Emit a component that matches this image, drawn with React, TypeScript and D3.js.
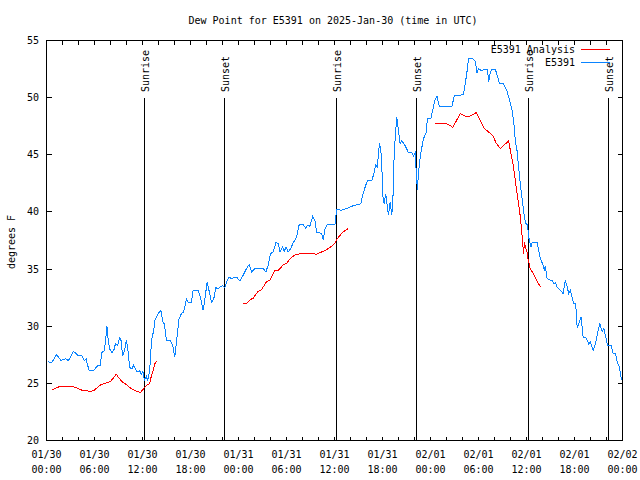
import React from 'react';
import * as d3 from 'd3';

// Hours since 2025-01-30 00:00 UTC, dew point (°F)
const stationSeries: [number, number][] = [
  [0.13, 26.9], [0.66, 26.8], [1.21, 27.5], [1.5, 27.3], [1.79, 27.0], [2.34, 27.15], [2.75, 27.0],
  [3.38, 27.8], [3.72, 27.6], [4.01, 27.4], [4.42, 27.4], [4.72, 27.0], [4.97, 27.15], [5.05, 26.8],
  [5.35, 26.1], [5.89, 26.1], [6.3, 26.5], [6.72, 26.6], [6.92, 27.7], [7.23, 27.85], [7.39, 28.75],
  [7.55, 30.05], [7.68, 29.0], [7.89, 28.0], [8.18, 27.7], [8.48, 28.0], [8.6, 28.45], [8.89, 28.3],
  [9.14, 29.0], [9.3, 28.85], [9.52, 27.4], [9.73, 27.8], [9.98, 28.75], [10.14, 28.15], [10.39, 26.4],
  [10.68, 26.25], [10.89, 26.6], [11.11, 26.25], [11.31, 26.0], [11.65, 26.1], [11.86, 25.8],
  [12.06, 26.05], [12.23, 25.25], [12.48, 25.6], [12.65, 25.25], [12.9, 26.1], [13.06, 28.0],
  [13.24, 29.3], [13.4, 29.45], [13.52, 30.5], [13.81, 30.9], [14.15, 31.3], [14.31, 31.35],
  [14.56, 30.35], [14.74, 30.2], [14.99, 28.75], [15.49, 28.75], [15.82, 28.2], [16.03, 27.3],
  [16.57, 30.65], [16.87, 31.1], [17.15, 31.25], [17.49, 32.4], [17.69, 32.1], [18.12, 32.1],
  [18.32, 33.1], [18.95, 33.1], [19.25, 32.5], [19.57, 31.4], [19.78, 32.25], [20.07, 33.85],
  [20.32, 33.1], [20.62, 32.1], [20.91, 32.4], [21.16, 33.4], [21.45, 33.25], [21.66, 33.4],
  [22.0, 33.55], [22.29, 33.4], [22.58, 34.0], [22.83, 34.3], [23.13, 34.15], [23.54, 34.3],
  [23.75, 34.3], [24.17, 33.95], [24.58, 34.45], [25.01, 35.05], [25.33, 35.4], [25.63, 34.75],
  [26.05, 35.05], [27.09, 35.05], [27.42, 34.75], [27.71, 35.35], [28.01, 36.35], [28.34, 36.5],
  [28.68, 37.3], [28.96, 37.25], [29.18, 36.5], [29.51, 36.95], [29.71, 36.5], [29.93, 36.95],
  [30.22, 36.5], [30.52, 36.8], [30.84, 37.3], [31.27, 37.8], [31.59, 38.9], [32.09, 38.9],
  [32.43, 38.55], [32.59, 38.85], [32.93, 38.75], [33.27, 39.6], [33.56, 39.25], [33.77, 38.2],
  [34.1, 38.2], [34.4, 38.05], [34.6, 37.55], [34.81, 38.5], [35.1, 38.9], [36.06, 38.9],
  [36.27, 40.2], [36.9, 40.15], [37.53, 40.3], [38.35, 40.55], [39.28, 40.7], [39.53, 41.5],
  [39.82, 42.15], [40.11, 42.75], [40.66, 42.75], [40.86, 43.2], [41.16, 44.1], [41.36, 43.95],
  [41.61, 46.0], [41.79, 45.4], [41.91, 44.1], [42.04, 41.45], [42.2, 40.7], [42.41, 41.6],
  [42.54, 40.85], [42.74, 39.7], [42.95, 40.85], [43.16, 39.7], [43.29, 40.85], [43.45, 44.8],
  [43.61, 46.8], [43.79, 48.3], [43.99, 47.1], [44.2, 46.0], [44.41, 46.25], [44.83, 45.8],
  [45.24, 45.2], [45.67, 45.2], [45.87, 44.9], [46.08, 45.2], [46.21, 43.6], [46.37, 41.9],
  [46.49, 43.35], [46.71, 44.8], [46.92, 45.65], [47.12, 46.4], [47.46, 46.95], [47.62, 48.2],
  [48.05, 48.2], [48.3, 49.0], [48.59, 49.85], [48.8, 50.15], [49.12, 49.2], [50.68, 49.2],
  [50.96, 50.15], [51.5, 50.15], [52.13, 50.3], [52.34, 51.2], [52.55, 52.2], [52.75, 53.45],
  [53.18, 53.45], [53.59, 53.2], [53.81, 52.2], [54.01, 52.5], [54.43, 52.35], [54.72, 52.5],
  [55.13, 52.5], [55.26, 51.35], [55.47, 52.2], [55.69, 52.5], [56.1, 52.5], [56.64, 51.2],
  [57.14, 51.2], [57.56, 50.6], [57.89, 49.75], [58.19, 48.9], [58.39, 48.0], [58.6, 46.25],
  [58.81, 45.4], [59.02, 43.9], [59.14, 43.05], [59.32, 41.9], [59.57, 40.45], [59.73, 39.55],
  [59.89, 39.0], [60.14, 38.85], [60.27, 37.8], [60.57, 36.95], [60.69, 37.3], [61.11, 37.3],
  [61.32, 37.3], [61.52, 36.65], [61.73, 35.95], [62.07, 35.35], [62.23, 34.95], [62.36, 35.25],
  [62.57, 34.2], [62.9, 34.05], [63.2, 34.0], [63.4, 33.75], [63.65, 33.8], [63.82, 33.45],
  [64.24, 33.15], [64.57, 32.85], [64.86, 34.0], [65.08, 33.45], [65.28, 32.85], [65.49, 33.15],
  [65.7, 32.55], [65.9, 31.95], [66.15, 31.95], [66.33, 29.9], [66.53, 30.2], [66.83, 30.8],
  [67.08, 29.05], [67.37, 29.05], [67.58, 28.75], [67.78, 28.45], [67.99, 28.6], [68.33, 27.9],
  [68.62, 28.45], [68.91, 29.5], [69.16, 30.25], [69.46, 29.5], [69.66, 29.8], [70.0, 28.75],
  [70.16, 28.3], [70.59, 28.3], [70.84, 27.6], [71.12, 27.6], [71.34, 26.85], [71.63, 26.4],
  [71.84, 25.4], [71.96, 25.25],
];

const analysisSegment1: [number, number][] = [
  [0.66, 24.4], [1.09, 24.55], [1.72, 24.75], [3.17, 24.75], [3.79, 24.6], [4.42, 24.4],
  [5.05, 24.35], [5.47, 24.3], [5.89, 24.35], [6.3, 24.6], [6.72, 24.85], [7.35, 25.0],
  [7.98, 25.15], [8.39, 25.5], [8.73, 25.8], [9.02, 25.5], [9.43, 25.15], [10.06, 24.85],
  [10.56, 24.55], [11.31, 24.3], [11.73, 24.2], [12.15, 24.55], [12.56, 24.85], [12.9, 25.0],
  [13.06, 25.5], [13.4, 26.3], [13.61, 26.85], [13.81, 26.9],
];
const analysisSegment2: [number, number][] = [
  [24.58, 31.95], [24.92, 31.95], [25.42, 32.3], [25.83, 32.45], [26.46, 33.05], [26.88, 33.2],
  [27.51, 33.9], [27.92, 34.05], [28.55, 34.85], [28.96, 34.9], [29.59, 35.35], [30.01, 35.5],
  [30.64, 36.05], [31.27, 36.3], [32.09, 36.35], [33.15, 36.35], [33.77, 36.3], [34.4, 36.5],
  [35.02, 36.7], [35.65, 37.0], [36.06, 37.3], [36.48, 37.8], [37.1, 38.25], [37.73, 38.55],
];
const analysisSegment3: [number, number][] = [
  [48.59, 47.7], [49.84, 47.75], [50.25, 47.65], [50.8, 47.4], [51.71, 48.6], [52.55, 48.3],
  [52.88, 48.35], [53.72, 48.7], [54.22, 48.0], [54.72, 47.3], [55.26, 47.0], [55.81, 46.65],
  [56.22, 46.0], [56.72, 45.55], [57.76, 46.2], [57.98, 45.4], [58.32, 44.2], [58.6, 42.75],
  [58.89, 41.3], [59.14, 40.1], [59.35, 38.7], [59.57, 36.9], [59.64, 36.3], [59.74, 37.35],
  [59.87, 36.9], [60.07, 36.45], [60.2, 35.85], [60.48, 35.0], [60.9, 34.55], [61.32, 33.95],
  [61.73, 33.45],
];
const analysisSegments = [analysisSegment1, analysisSegment2, analysisSegment3];

const sunEventLabels = ['Sunrise', 'Sunset', 'Sunrise', 'Sunset', 'Sunrise', 'Sunset'];
const sunEventHours = [12.25, 22.2, 36.2, 46.22, 60.2, 70.28];

const yTickValues = [20, 25, 30, 35, 40, 45, 50, 55];
const legendLabels = ['E5391 Analysis', 'E5391'];
const titleText = 'Dew Point for E5391 on 2025-Jan-30 (time in UTC)';
const yAxisLabel = 'degrees F';

const START = Date.UTC(2025, 0, 30);
const END = Date.UTC(2025, 1, 2);
const toDate = (h: number) => new Date(START + h * 3600 * 1000);

const FONT = "'DejaVu Sans Mono', 'Liberation Mono', monospace";
const RED = '#ff0000';
const BLUE = '#0a84ff';

export default function App() {
  const L = 46.5, R = 622.5, T = 40.5, B = 440.5;
  const x = d3.scaleUtc().domain([new Date(START), new Date(END)]).range([L, R]);
  const y = d3.scaleLinear().domain([20, 55]).range([B, T]);
  const line = d3
    .line<[number, number]>()
    .x((d) => x(toDate(d[0])))
    .y((d) => y(d[1]));

  const minorTicks = d3.utcHour.every(2)!.range(new Date(START), new Date(END + 1));
  const majorTicks = d3.utcHour.every(6)!.range(new Date(START), new Date(END + 1));
  const fmtDay = d3.utcFormat('%m/%d');
  const fmtTime = d3.utcFormat('%H:%M');
  const snap = (v: number) => Math.round(v - 0.5) + 0.5;

  return (
    <svg
      width={640}
      height={480}
      style={{ position: 'absolute', left: 0, top: 0, background: '#fff' }}
      fontFamily={FONT}
      fontSize={10}
    >
      <rect x={0} y={0} width={640} height={480} fill="#fff" />
      <text x={333} y={20} textAnchor="middle" dominantBaseline="central" fill="#000">
        {titleText}
      </text>

      {/* y ticks */}
      {yTickValues.map((v) => (
        <g key={v}>
          <line x1={L} x2={L + 5} y1={snap(y(v))} y2={snap(y(v))} stroke="#000" shapeRendering="crispEdges" />
          <line x1={R} x2={R - 5} y1={snap(y(v))} y2={snap(y(v))} stroke="#000" shapeRendering="crispEdges" />
          <text x={39} y={y(v)} textAnchor="end" dominantBaseline="central" fill="#000">
            {v}
          </text>
        </g>
      ))}

      {/* x ticks */}
      {minorTicks.map((d, i) => (
        <g key={i}>
          <line x1={snap(x(d))} x2={snap(x(d))} y1={B} y2={B - 4} stroke="#000" shapeRendering="crispEdges" />
          <line x1={snap(x(d))} x2={snap(x(d))} y1={T} y2={T + 4} stroke="#000" shapeRendering="crispEdges" />
        </g>
      ))}
      {majorTicks.map((d, i) => (
        <g key={'l' + i}>
          <text x={x(d)} y={454} textAnchor="middle" dominantBaseline="central" fill="#000">
            {fmtDay(d)}
          </text>
          <text x={x(d)} y={469} textAnchor="middle" dominantBaseline="central" fill="#000">
            {fmtTime(d)}
          </text>
        </g>
      ))}

      <text
        transform={`translate(11,242) rotate(-90)`}
        textAnchor="middle"
        dominantBaseline="central"
        fill="#000"
      >
        {yAxisLabel}
      </text>

      {/* sunrise / sunset markers */}
      {sunEventHours.map((h, i) => {
        const px = snap(x(toDate(h)));
        return (
          <g key={'s' + i}>
            <line x1={px} x2={px} y1={98} y2={B} stroke="#000" shapeRendering="crispEdges" />
            <text
              transform={`translate(${px + 1},92) rotate(-90)`}
              textAnchor="start"
              dominantBaseline="central"
              fill="#000"
            >
              {sunEventLabels[i]}
            </text>
          </g>
        );
      })}

      {/* series */}
      {analysisSegments.map((seg, i) => (
        <path key={'a' + i} d={line(seg) || ''} fill="none" stroke={RED} strokeWidth={1} shapeRendering="crispEdges" />
      ))}
      <path d={line(stationSeries) || ''} fill="none" stroke={BLUE} strokeWidth={1} shapeRendering="crispEdges" />

      {/* frame */}
      <rect x={L} y={T} width={R - L} height={B - T} fill="none" stroke="#000" shapeRendering="crispEdges" />

      {/* legend */}
      {legendLabels.map((lab, i) => (
        <g key={'lg' + i}>
          <text x={575} y={49.5 + i * 13} textAnchor="end" dominantBaseline="central" fill="#000">
            {lab}
          </text>
          <line
            x1={581}
            x2={610}
            y1={49.5 + i * 13}
            y2={49.5 + i * 13}
            stroke={i === 0 ? RED : BLUE}
            shapeRendering="crispEdges"
          />
        </g>
      ))}
    </svg>
  );
}
